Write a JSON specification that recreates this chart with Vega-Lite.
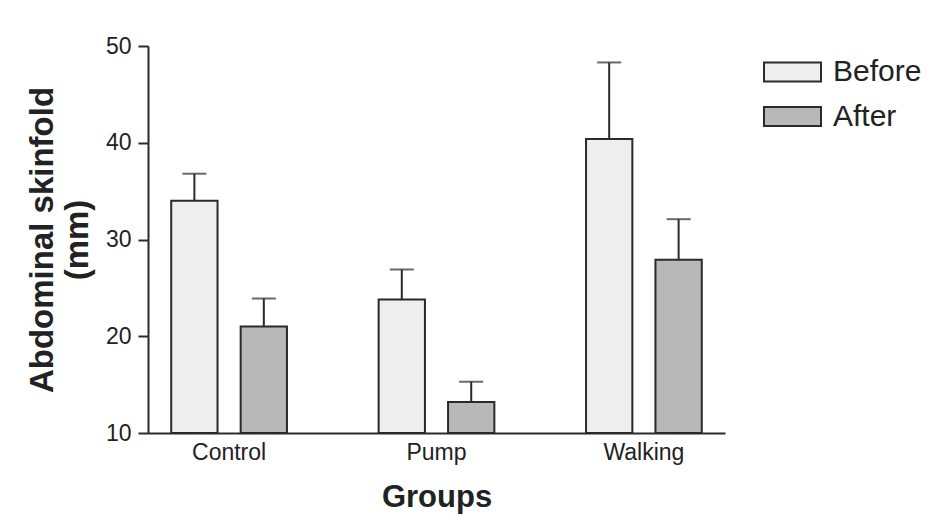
{
  "$schema": "https://vega.github.io/schema/vega-lite/v6.json",
  "autosize": {"type": "none"},
  "padding": {"left": 148, "top": 46, "right": 205, "bottom": 87},
  "width": 577,
  "height": 387,
  "background": "white",
  "config": {
    "view": {"stroke": null},
    "font": "Liberation Sans",
    "axis": {"grid": false, "domainColor": "#2a2a2a", "domainWidth": 2, "tickColor": "#2a2a2a", "tickWidth": 2, "labelColor": "#222", "titleColor": "#222", "labelFont": "Liberation Sans", "titleFont": "Liberation Sans"}
  },
  "data": {
    "values": [
      {"group": "Control", "phase": "Before", "mean": 34.0, "upper": 36.8},
      {"group": "Control", "phase": "After", "mean": 21.0, "upper": 23.9},
      {"group": "Pump", "phase": "Before", "mean": 23.8, "upper": 26.9},
      {"group": "Pump", "phase": "After", "mean": 13.2, "upper": 15.3},
      {"group": "Walking", "phase": "Before", "mean": 40.4, "upper": 48.3},
      {"group": "Walking", "phase": "After", "mean": 27.9, "upper": 32.1}
    ]
  },
  "encoding": {
    "x": {
      "field": "group", "type": "nominal", "sort": ["Control", "Pump", "Walking"],
      "scale": {"paddingInner": 0.442, "paddingOuter": 0.112},
      "axis": {"title": "Groups", "labelAngle": 0, "ticks": false, "labelPadding": 8, "labelFontSize": 23, "titleFontSize": 31, "titleFontWeight": "bold", "titlePadding": 18}
    },
    "xOffset": {
      "field": "phase", "type": "nominal", "sort": ["Before", "After"],
      "scale": {"paddingInner": 0.333, "paddingOuter": 0}
    }
  },
  "layer": [
    {
      "mark": {"type": "rule", "color": "#2a2a2a", "strokeWidth": 2},
      "encoding": {
        "y": {"field": "mean", "type": "quantitative"},
        "y2": {"field": "upper"}
      }
    },
    {
      "mark": {"type": "tick", "color": "#2a2a2a", "thickness": 2, "size": 24, "orient": "horizontal"},
      "encoding": {
        "y": {"field": "upper", "type": "quantitative"}
      }
    },
    {
      "mark": {"type": "bar", "stroke": "#2a2a2a", "strokeWidth": 2},
      "encoding": {
        "y": {
          "field": "mean", "type": "quantitative",
          "scale": {"domain": [10, 50], "zero": false, "nice": false},
          "axis": {"title": ["Abdominal skinfold", "(mm)"], "values": [10, 20, 30, 40, 50], "tickSize": 10, "labelPadding": 7, "labelFontSize": 23, "titleFontSize": 33, "titleFontWeight": "bold", "titleLineHeight": 35, "titlePadding": 11}
        },
        "y2": {"datum": 10},
        "fill": {
          "field": "phase", "type": "nominal", "sort": ["Before", "After"],
          "scale": {"domain": ["Before", "After"], "range": ["#eeeeee", "#b8b8b8"]},
          "legend": {
            "title": null, "orient": "none", "legendX": 615, "legendY": 6,
            "symbolType": "M-1,-0.333H1V0.333H-1Z", "symbolSize": 3249,
            "symbolStrokeColor": "#2a2a2a", "symbolStrokeWidth": 2,
            "labelFontSize": 30, "labelColor": "#222", "labelOffset": 11,
            "clipHeight": 40, "rowPadding": 4.5, "padding": 0
          }
        }
      }
    }
  ]
}
